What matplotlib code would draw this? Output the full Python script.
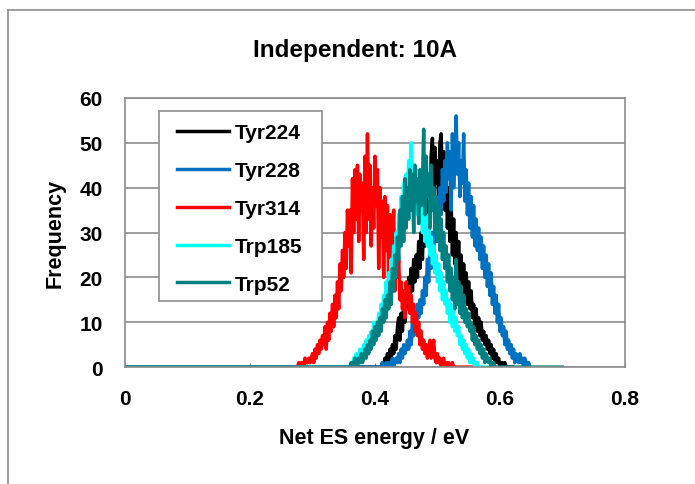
import numpy as np
import matplotlib
matplotlib.use("Agg")
from matplotlib import pyplot as plt
from matplotlib.lines import Line2D
from matplotlib.patches import Rectangle

# Histogram of net ES energy, bins of 0.002 eV
step = 0.002

# Tyr224 (black)
tyr224_start, tyr224_end = 0.410, 0.620
tyr224 = [0, 1, 0, 2, 1, 3, 1,
          4, 2, 5, 3, 7, 4, 9,
          11, 6, 12, 8, 14, 10, 17,
          13, 20, 15, 22, 17, 24, 19,
          25, 20, 28, 22, 30, 24, 33,
          27, 38, 30, 42, 34, 47, 51,
          38, 49, 41, 46, 36, 50, 52,
          40, 48, 35, 44, 31, 40, 28,
          36, 25, 33, 23, 30, 21, 28,
          19, 25, 17, 23, 16, 21, 14,
          19, 13, 17, 11, 14, 9, 13,
          8, 11, 7, 10, 6, 8, 5,
          7, 4, 6, 3, 5, 2, 4,
          1, 3, 1, 2, 0, 1, 1,
          0, 1, 0, 0]

# Tyr228 (blue)
tyr228_start, tyr228_end = 0.410, 0.648
tyr228 = [0, 1, 0, 0, 1, 0, 1,
          0, 1, 2, 0, 1, 2, 1,
          3, 1, 4, 2, 5, 3, 4,
          6, 4, 8, 5, 10, 7, 12,
          9, 14, 11, 15, 12, 17, 14,
          20, 16, 24, 19, 27, 22, 30,
          25, 33, 28, 36, 31, 40, 34,
          44, 37, 46, 39, 50, 42, 48,
          35, 52, 40, 47, 56, 43, 50,
          38, 46, 41, 52, 37, 44, 34,
          41, 31, 38, 29, 36, 27, 33,
          26, 31, 24, 29, 22, 27, 20,
          25, 18, 23, 16, 21, 14, 18,
          12, 16, 10, 14, 8, 11, 7,
          9, 5, 8, 4, 6, 3, 5,
          2, 4, 1, 3, 2, 1, 3,
          1, 2, 0, 2, 1, 0, 1,
          0]

# Tyr314 (red)
tyr314_start, tyr314_end = 0.276, 0.562
tyr314 = [0, 1, 0, 1, 1, 0, 2, 1, 1, 2, 1,
          2, 3, 1, 4, 2, 5, 3, 6, 4,
          7, 5, 9, 4, 10, 6, 12, 8,
          14, 9, 16, 11, 19, 13, 23,
          17, 26, 20, 30, 22, 35, 27,
          35, 21, 42, 30, 44, 33, 45,
          28, 43, 35, 41, 24, 47, 30,
          52, 33, 45, 27, 40, 31, 47,
          36, 44, 22, 40, 29, 37, 20,
          38, 26, 36, 19, 34, 22, 30,
          35, 17, 29, 20, 24, 15, 19,
          13, 17, 11, 19, 15, 18, 12,
          16, 10, 14, 8, 12, 7, 10,
          5, 8, 4, 6, 3, 5, 2,
          4, 6, 2, 3, 6, 2, 1,
          3, 1, 2, 0, 1, 2, 0,
          1, 0, 1, 0, 0, 1, 0, 0]

# Trp185 (cyan)
trp185_start, trp185_end = 0.360, 0.580
trp185 = [0, 1, 0, 2, 1, 3, 1,
          2, 4, 2, 3, 5, 3, 6,
          4, 7, 5, 8, 6, 10, 7,
          10, 8, 12, 9, 14, 11, 16,
          13, 19, 15, 21, 18, 24, 20,
          27, 22, 30, 26, 34, 29, 38,
          33, 41, 36, 43, 38, 46, 40,
          50, 39, 45, 36, 44, 34, 41,
          32, 39, 30, 36, 28, 34, 27,
          32, 25, 29, 23, 27, 21, 25,
          19, 23, 17, 21, 15, 19, 14,
          17, 12, 15, 10, 14, 9, 13,
          8, 11, 7, 9, 5, 7, 4,
          6, 3, 5, 2, 4, 1, 3,
          1, 2, 0, 1, 1, 0, 0]

# Trp52 (teal)
trp52_start, trp52_end = 0.360, 0.700
trp52 = [0, 1, 0, 1, 2, 1, 0,
         2, 1, 3, 1, 2, 4, 2,
         5, 3, 6, 4, 8, 5, 9,
         6, 10, 7, 11, 8, 13, 10,
         15, 11, 16, 13, 19, 14, 22,
         17, 25, 20, 29, 24, 35, 27,
         38, 28, 42, 31, 40, 33, 44,
         35, 43, 30, 45, 37, 42, 32,
         44, 36, 41, 53, 34, 47, 38,
         43, 31, 45, 35, 40, 30, 38,
         28, 36, 26, 33, 24, 30, 22,
         27, 19, 25, 17, 22, 15, 20,
         13, 24, 14, 19, 12, 18, 11,
         16, 10, 13, 9, 12, 8, 10,
         6, 9, 5, 7, 4, 6, 3,
         5, 2, 4, 1, 3, 2, 1,
         2, 0, 1, 1, 0]

series = [("Tyr224", tyr224_start, tyr224_end, tyr224, "#000000"),
          ("Tyr228", tyr228_start, tyr228_end, tyr228, "#0070C0"),
          ("Tyr314", tyr314_start, tyr314_end, tyr314, "#FF0000"),
          ("Trp185", trp185_start, trp185_end, trp185, "#00FFFF"),
          ("Trp52", trp52_start, trp52_end, trp52, "#008080")]


def full_hist(start, end, counts):
    # counts are zero from 0 eV up to start and after the listed bins
    n = int(round(end / step)) + 1
    x = np.arange(n) * step
    y = np.zeros(n)
    i0 = int(round(start / step))
    y[i0:i0 + len(counts)] = counts
    return x, y


plt.rcParams['font.family'] = ['Liberation Sans', 'DejaVu Sans']
plt.rcParams['font.weight'] = 'bold'

grey = "#8c8c8c"
fig = plt.figure(figsize=(6.95, 4.85), dpi=100)
ax = fig.add_axes([0.180, 0.241, 0.719, 0.555])

# Outer chart border (only left and top show)
fig.add_artist(Line2D([0.0115, 0.0115], [0, 0.977], color=grey, lw=1.2,
                      transform=fig.transFigure))
fig.add_artist(Line2D([0.0115, 1], [0.977, 0.977], color=grey, lw=1.2,
                      transform=fig.transFigure))

handles = []
for name, s, e, counts, col in series:
    x, y = full_hist(s, e, counts)
    h, = ax.plot(x, y, color=col, lw=2.5, label=name, solid_joinstyle="round")
    handles.append(h)

ax.set_xlim(0, 0.8)
ax.set_ylim(0, 60)
ax.set_xticks([0, 0.2, 0.4, 0.6, 0.8])
ax.set_xticklabels(["0", "0.2", "0.4", "0.6", "0.8"])
ax.set_yticks(range(0, 61, 10))
ax.yaxis.grid(True, color=grey, lw=1.2)
ax.set_axisbelow(True)
for sp in ax.spines.values():
    sp.set_color(grey)
    sp.set_linewidth(1.2)
ax.tick_params(axis="y", length=0, pad=16, labelsize=15)
ax.tick_params(axis="x", direction="in", length=3, color=grey,
               pad=16, labelsize=15)

fig.text(355 / 695, 1 - 50 / 485, "Independent: 10A", fontsize=17.5,
         fontweight="bold", ha="center", va="center")
ax.set_xlabel("Net ES energy / eV", fontsize=15.5, fontweight="bold", va="center")
ax.set_ylabel("Frequency", fontsize=15.5, fontweight="bold", va="center")
ax.xaxis.set_label_coords(0.498, -0.261)
ax.yaxis.set_label_coords(-0.14, 0.5)

# legend box drawn separately so the padding matches
ax.add_patch(Rectangle((0.068, 0.246), 0.326, 0.705, transform=ax.transAxes,
                       facecolor="white", edgecolor=grey, lw=1.2, zorder=5))
leg = ax.legend(handles=handles, loc="upper left", bbox_to_anchor=(0.104, 0.906),
                fontsize=15, frameon=False, handlelength=2.5, handletextpad=0.25,
                labelspacing=0.905, borderpad=0, borderaxespad=0)
leg.set_zorder(6)
for t in leg.get_texts():
    t.set_fontweight("bold")

fig.savefig("out.png", dpi=100)
